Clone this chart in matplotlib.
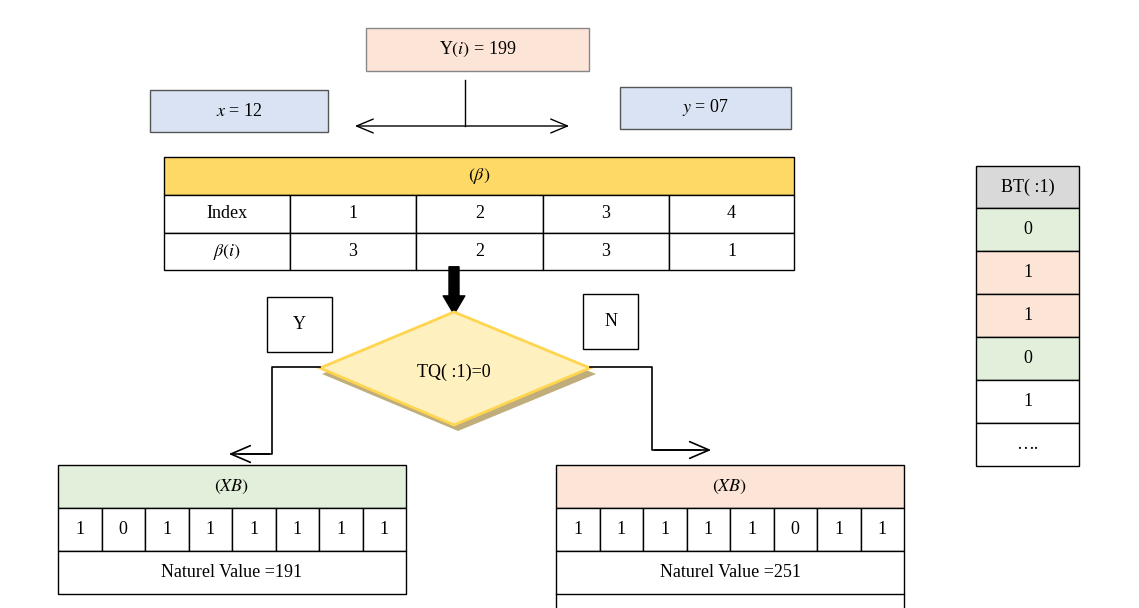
import matplotlib
matplotlib.use("Agg")
import matplotlib.pyplot as plt
from matplotlib.patches import Rectangle, Polygon, FancyArrowPatch

plt.rcParams['font.family'] = ['Liberation Serif', 'DejaVu Serif']
plt.rcParams['mathtext.fontset'] = 'stix'

top_label = r"Y$(i)$ = 199"
x_label = r"$x$ = 12"
y_label = r"$y$ = 07"
beta_title = r"$(\beta)$"
index_vals = ["1", "2", "3", "4"]
beta_vals = ["3", "2", "3", "1"]
cond_label = "TQ( :1)=0"
xb_left = ["1", "0", "1", "1", "1", "1", "1", "1"]
xb_right = ["1", "1", "1", "1", "1", "0", "1", "1"]
left_value = "Naturel Value =191"
right_value = "Naturel Value =251"
bt_header = "BT( :1)"
bt_vals = ["0", "1", "1", "0", "1", "…."]

PEACH = "#fce4d6"; BLUE = "#dae3f3"; GOLD = "#ffd966"; GREEN = "#e2efda"; GRAY = "#d9d9d9"
FS = 13

fig = plt.figure(figsize=(11.39, 6.08), dpi=100)
ax = fig.add_axes([0, 0, 1, 1])
ax.set_xlim(0, 1139); ax.set_ylim(608, 0); ax.axis('off')

def box(x0, y0, x1, y1, fc="white", ec="black", lw=1, text=None, fs=FS):
    ax.add_patch(Rectangle((x0, y0), x1 - x0, y1 - y0, fc=fc, ec=ec, lw=lw))
    if text is not None:
        ax.text((x0 + x1) / 2, (y0 + y1) / 2, text, ha='center', va='center', fontsize=fs)

box(366, 28, 589, 71, fc=PEACH, ec="#888888", text=top_label)
box(150, 90, 328, 132, fc=BLUE, ec="#555555", text=x_label)
box(620, 87, 791, 129, fc=BLUE, ec="#555555", text=y_label)
ax.plot([465, 465], [80, 126], color="black", lw=1)
ax.add_patch(FancyArrowPatch((352, 126), (572, 126), arrowstyle='<->,head_length=12,head_width=5', color='black', lw=1))

# beta table
cols = [164, 290, 416, 543, 669, 794]
box(164, 157, 794, 195, fc=GOLD, text=beta_title)
rows = [("Index", index_vals, 195, 233), (r"$\beta(i)$", beta_vals, 233, 270)]
for lab, vals, y0, y1 in rows:
    cells = [lab] + vals
    for i, t in enumerate(cells):
        box(cols[i], y0, cols[i + 1], y1, text=t)

ax.add_patch(FancyArrowPatch((454, 264), (454, 317), arrowstyle='simple,head_length=1.1,head_width=1.3,tail_width=0.6',
                             mutation_scale=12, color='black'))

box(267, 297, 332, 352, text="Y")
box(583, 294, 638, 349, text="N")

# diamond
ax.add_patch(Polygon([(322, 374), (458, 318), (596, 374), (458, 431)], closed=True, fc="#bfae7c", ec="none"))
ax.add_patch(Polygon([(320, 368), (454, 312), (590, 368), (454, 425)], closed=True, fc="#fff0bf", ec="#ffd54f", lw=2))
ax.text(454, 372, cond_label, ha='center', va='center', fontsize=FS)

ax.plot([320, 272, 272, 240], [367, 367, 454, 454], color="black", lw=1.2)
ax.add_patch(FancyArrowPatch((272, 454), (226, 454), arrowstyle='->,head_length=14,head_width=6', color='black', lw=1.2))
ax.plot([590, 652, 652, 700], [367, 367, 450, 450], color="black", lw=1.2)
ax.add_patch(FancyArrowPatch((652, 450), (714, 450), arrowstyle='->,head_length=14,head_width=6', color='black', lw=1.2))

def xb_table(x0, x1, fc, vals, valtxt, extra=False):
    box(x0, 465, x1, 508, fc=fc, text=r"$(XB)$")
    w = (x1 - x0) / len(vals)
    for i, v in enumerate(vals):
        box(x0 + i * w, 508, x0 + (i + 1) * w, 551, text=v)
    box(x0, 551, x1, 594, text=valtxt)
    if extra:
        ax.plot([x0, x0], [594, 608], color='black', lw=1)
        ax.plot([x1, x1], [594, 608], color='black', lw=1)

xb_table(58, 406, GREEN, xb_left, left_value)
xb_table(556, 904, PEACH, xb_right, right_value, extra=True)

# BT column
box(976, 166, 1079, 208, fc=GRAY, text=bt_header)
bt_fc = [GREEN, PEACH, PEACH, GREEN, "white", "white"]
for i, v in enumerate(bt_vals):
    y0 = 208 + i * 43
    box(976, y0, 1079, y0 + 43, fc=bt_fc[i], text=v)

fig.savefig("out.png", dpi=100)
